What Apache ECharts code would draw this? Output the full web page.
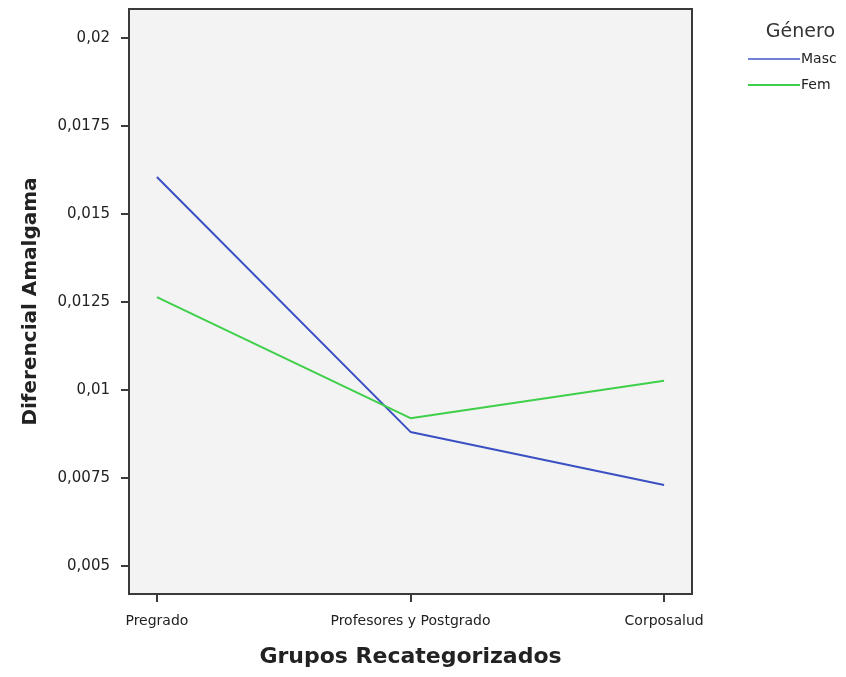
<!DOCTYPE html>
<html>
<head>
<meta charset="utf-8">
<script src="https://cdn.jsdelivr.net/npm/echarts@6/dist/echarts.min.js"></script>
<style>
  html, body { margin: 0; padding: 0; background: #fff; }
  #chart { width: 846px; height: 677px; }
</style>
</head>
<body>
<div id="chart"></div>
<script>
// grupos en el eje x
const categories = ["Pregrado", "Profesores y Postgrado", "Corposalud"];
// valores
const masc = [0.01605, 0.00881, 0.0073];
const fem = [0.01264, 0.0092, 0.01026];
const yTicks = [0.005, 0.0075, 0.01, 0.0125, 0.015, 0.0175, 0.02];

const chart = echarts.init(document.getElementById("chart"));

const toPoints = (arr) => arr.map((v, i) => [i, v]);
const fmt = (v) => String(+v.toFixed(4)).replace(".", ",");

const option = {
  animation: false,
  backgroundColor: "#ffffff",
  title: {
    text: "Género",
    right: 6,
    top: 18,
    textStyle: { fontFamily: "DejaVu Sans", fontSize: 19, fontWeight: "normal", color: "#333" },
  },
  legend: {
    data: ["Masc", "Fem"],
    orient: "vertical",
    left: 743,
    top: 47,
    icon: "rect",
    itemWidth: 52,
    itemHeight: 2,
    itemGap: 12,
    textStyle: { fontFamily: "DejaVu Sans", fontSize: 14, color: "#222", padding: [0, 0, 0, -4] },
  },
  grid: {
    left: 129,
    top: 9,
    width: 563,
    height: 585,
    show: true,
    backgroundColor: "#f3f3f3",
    borderColor: "#3a3a3a",
    borderWidth: 2,
  },
  xAxis: {
    type: "value",
    min: -0.11,
    max: 2.11,
    name: "Grupos Recategorizados",
    nameLocation: "middle",
    nameGap: 52,
    nameTextStyle: { fontFamily: "DejaVu Sans", fontSize: 22, fontWeight: "bold", color: "#222" },
    axisLine: { show: true, onZero: false, lineStyle: { color: "#3a3a3a", width: 2 } },
    axisTick: { show: true, customValues: [0, 1, 2], length: 8, lineStyle: { color: "#3a3a3a", width: 2 } },
    axisLabel: {
      customValues: [0, 1, 2],
      formatter: (v) => categories[Math.round(v)],
      margin: 20,
      fontFamily: "DejaVu Sans",
      fontSize: 14,
      color: "#222",
    },
    splitLine: { show: false },
  },
  yAxis: {
    type: "value",
    min: 0.004205,
    max: 0.020824,
    name: "Diferencial Amalgama",
    nameLocation: "middle",
    nameGap: 88,
    nameRotate: 90,
    nameTextStyle: { fontFamily: "DejaVu Sans", fontSize: 20, fontWeight: "bold", color: "#222" },
    axisLine: { show: true, onZero: false, lineStyle: { color: "#3a3a3a", width: 2 } },
    axisTick: { show: true, customValues: yTicks, length: 8, lineStyle: { color: "#3a3a3a", width: 2 } },
    axisLabel: {
      customValues: yTicks,
      formatter: fmt,
      margin: 19,
      fontFamily: "DejaVu Sans",
      fontSize: 15,
      color: "#222",
    },
    splitLine: { show: false },
  },
  series: [
    {
      name: "Masc",
      type: "line",
      data: toPoints(masc),
      symbol: "none",
      lineStyle: { color: "#3b4fc4", width: 2 },
      itemStyle: { color: "#6f82d6" },
    },
    {
      name: "Fem",
      type: "line",
      data: toPoints(fem),
      symbol: "none",
      lineStyle: { color: "#3fcf4a", width: 2 },
      itemStyle: { color: "#3fcf4a" },
    },
  ],
};

chart.setOption(option);
</script>
</body>
</html>
